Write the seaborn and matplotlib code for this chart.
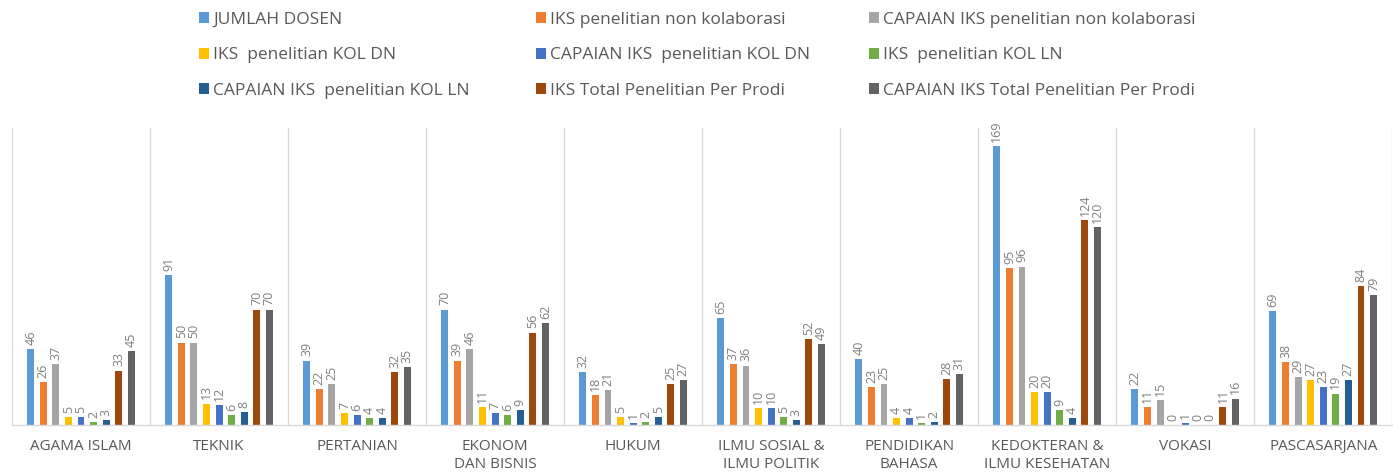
import pandas as pd
import matplotlib.pyplot as plt
import seaborn as sns

# --- Dados ---
prodi = ["AGAMA ISLAM", "TEKNIK", "PERTANIAN", "EKONOM\nDAN BISNIS", "HUKUM",
         "ILMU SOSIAL &\nILMU POLITIK", "PENDIDIKAN\nBAHASA",
         "KEDOKTERAN &\nILMU KESEHATAN", "VOKASI", "PASCASARJANA"]

jumlah_dosen      = [46, 91, 39, 70, 32, 65, 40, 169, 22, 69]
iks_non_kol       = [26, 50, 22, 39, 18, 37, 23, 95, 11, 38]
capaian_non_kol   = [37, 50, 25, 46, 21, 36, 25, 96, 15, 29]
iks_kol_dn        = [5, 13, 7, 11, 5, 10, 4, 20, 0, 27]
capaian_kol_dn    = [5, 12, 6, 7, 1, 10, 4, 20, 1, 23]
iks_kol_ln        = [2, 6, 4, 6, 2, 5, 1, 9, 0, 19]
capaian_kol_ln    = [3, 8, 4, 9, 5, 3, 2, 4, 0, 27]
iks_total         = [33, 70, 32, 56, 25, 52, 28, 124, 11, 84]
capaian_total     = [45, 70, 35, 62, 27, 49, 31, 120, 16, 79]

series = {
    "JUMLAH DOSEN": jumlah_dosen,
    "IKS penelitian non kolaborasi": iks_non_kol,
    "CAPAIAN IKS penelitian non kolaborasi": capaian_non_kol,
    "IKS  penelitian KOL DN": iks_kol_dn,
    "CAPAIAN IKS  penelitian KOL DN": capaian_kol_dn,
    "IKS  penelitian KOL LN": iks_kol_ln,
    "CAPAIAN IKS  penelitian KOL LN": capaian_kol_ln,
    "IKS Total Penelitian Per Prodi": iks_total,
    "CAPAIAN IKS Total Penelitian Per Prodi": capaian_total,
}
cores = ["#5B9BD5", "#ED7D31", "#A5A5A5", "#FFC000", "#4472C4",
         "#70AD47", "#255E91", "#9E480E", "#636363"]

df = pd.DataFrame(series, index=prodi).reset_index(names="Prodi")
df_long = df.melt(id_vars="Prodi", var_name="Indikator", value_name="Nilai")

# --- Estilo ---
sns.set_theme(style="white")
plt.rcParams["font.family"] = ["Open Sans", "DejaVu Sans"]
CINZA = "#595959"

fig = plt.figure(figsize=(13.97, 4.75), dpi=100)
ax = fig.add_axes([0.0086, 0.1053, 0.988, 0.625])

sns.barplot(data=df_long, x="Prodi", y="Nilai", hue="Indikator",
            palette=cores, saturation=1, width=0.82, gap=0.45,
            errorbar=None, linewidth=0, ax=ax, legend=True)

for cont in ax.containers:
    ax.bar_label(cont, labels=[f"{v:.0f}" for v in cont.datavalues],
                 rotation=90, padding=3, color="#7F7F7F", fontsize=9)

ax.set_ylim(0, 180)
ax.set_xlim(-0.5, len(prodi) - 0.5)
ax.set_yticks([])
ax.set_xlabel("")
ax.set_ylabel("")
ax.set_xticks([i + 0.5 for i in range(-1, len(prodi))], minor=True)
ax.grid(axis="x", which="minor", color="#D9D9D9", linewidth=1)
ax.tick_params(axis="x", which="both", length=0, pad=10,
               labelsize=11, labelcolor=CINZA)
for lbl in ax.get_xticklabels():
    lbl.set_linespacing(1.3)
for s in ["top", "left", "right"]:
    ax.spines[s].set_visible(False)
ax.spines["bottom"].set_color("#D9D9D9")
ax.spines["bottom"].set_linewidth(1)

# --- Legenda em 3 colunas ---
handles, labels = ax.get_legend_handles_labels()
ax.get_legend().remove()
col_x = [199, 536, 869]
for c in range(3):
    idx = [c, c + 3, c + 6]
    fig.legend([handles[i] for i in idx], [labels[i] for i in idx],
               loc="upper left", bbox_to_anchor=(col_x[c] / 1397, 0.975),
               frameon=False, fontsize=12.5, labelcolor=CINZA,
               handlelength=0.6, handleheight=0.6, handletextpad=0.2,
               labelspacing=1.12, borderpad=0, borderaxespad=0)

fig.savefig("out.png", dpi=100)
